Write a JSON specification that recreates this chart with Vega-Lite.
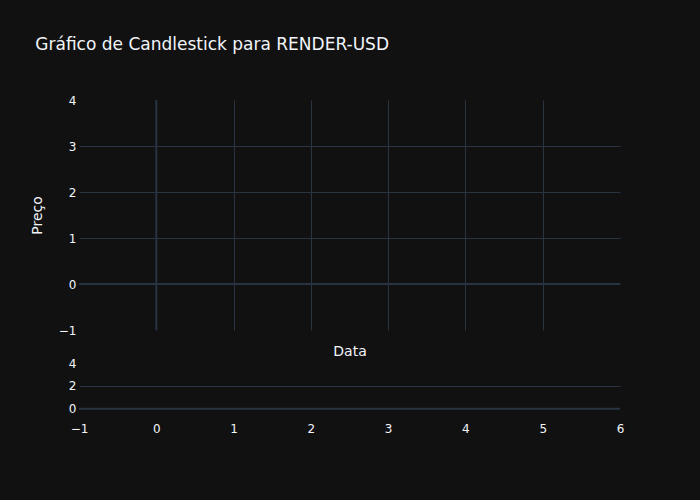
{
  "$schema": "https://vega.github.io/schema/vega-lite/v6.json",
  "background": "#111111",
  "padding": {"left": 30, "top": 36, "right": 79, "bottom": 66},
  "autosize": {"type": "pad"},
  "title": {"text": "Gráfico de Candlestick para RENDER-USD", "anchor": "start", "frame": "bounds", "font": "DejaVu Sans", "fontSize": 17, "fontWeight": "normal", "color": "#f2f5fa", "offset": 40, "dx": 5},
  "config": {
    "view": {"stroke": null},
    "font": "DejaVu Sans",
    "axis": {"domain": false, "ticks": false, "labelColor": "#f2f5fa", "labelFont": "DejaVu Sans", "labelFontSize": 12, "titleColor": "#f2f5fa", "titleFont": "DejaVu Sans", "titleFontSize": 14, "titleFontWeight": "normal", "gridColor": "#283442", "gridWidth": 1, "gridOpacity": 1, "labelPadding": 3, "labelFlush": false, "labelOverlap": false}
  },
  "datasets": {"zero": [{"v": 0}]},
  "spacing": 33,
  "bounds": "flush",
  "vconcat": [
    {
      "width": 541,
      "height": 230,
      "data": {"name": "zero"},
      "layer": [
        {
          "mark": {"type": "rule", "color": "#283442", "strokeWidth": 2},
          "encoding": {
            "y": {"field": "v", "type": "quantitative", "scale": {"domain": [-1, 4], "nice": false, "zero": false},
              "axis": {"title": "Preço", "values": [-1, 0, 1, 2, 3, 4], "format": "d", "titlePadding": 14,
                "gridColor": {"condition": {"test": "datum.value <= -1 || datum.value >= 4", "value": "transparent"}, "value": "#283442"}}}
          }
        },
        {
          "mark": {"type": "rule", "color": "#283442", "strokeWidth": 2},
          "encoding": {
            "x": {"field": "v", "type": "quantitative", "scale": {"domain": [-1, 6], "nice": false, "zero": false},
              "axis": {"title": "Data", "values": [0, 1, 2, 3, 4, 5], "labels": false, "titlePadding": 14}}
          }
        }
      ]
    },
    {
      "width": 541,
      "height": 48,
      "data": {"name": "zero"},
      "layer": [
        {
          "mark": {"type": "rule", "color": "#283442", "strokeWidth": 2},
          "encoding": {
            "y": {"field": "v", "type": "quantitative", "scale": {"domain": [-0.2, 4], "nice": false, "zero": false},
              "axis": {"title": null, "values": [0, 2, 4], "format": "d",
                "gridColor": {"condition": {"test": "datum.value !== 2", "value": "transparent"}, "value": "#283442"}}}
          }
        },
        {
          "mark": {"type": "rule", "opacity": 0},
          "encoding": {
            "x": {"field": "v", "type": "quantitative", "scale": {"domain": [-1, 6], "nice": false, "zero": false},
              "axis": {"title": null, "values": [-1, 0, 1, 2, 3, 4, 5, 6], "grid": false, "format": "d", "labelPadding": 12}}
          }
        }
      ]
    }
  ]
}
